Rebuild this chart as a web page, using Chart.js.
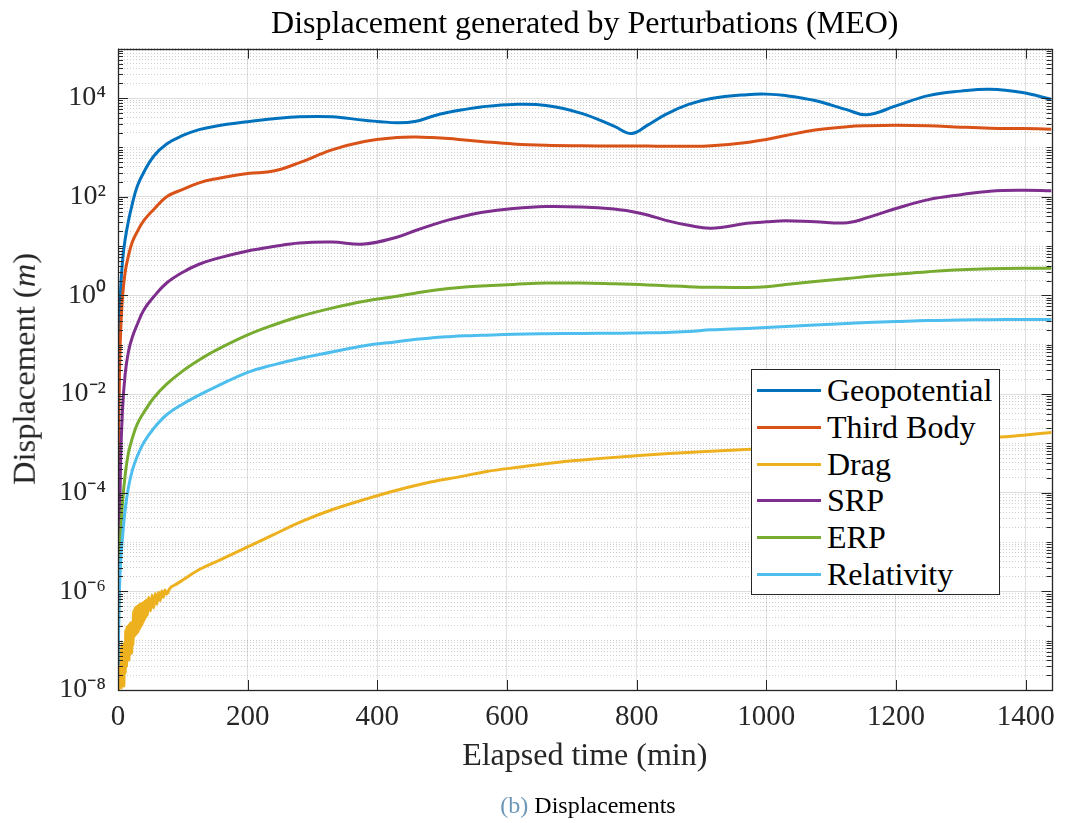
<!DOCTYPE html>
<html><head><meta charset="utf-8">
<script src="https://cdn.jsdelivr.net/npm/chart.js@4.4.1/dist/chart.umd.min.js"></script>
<style>
html,body{margin:0;padding:0;background:#fff;overflow:hidden}
#wrap{position:relative;width:1065px;height:823px}
canvas{position:absolute;left:0;top:0}
.serif{font-family:'Liberation Serif','Times New Roman',serif;color:#262626}
#ytitle{position:absolute;left:24px;top:369px;transform:translate(-50%,-50%) rotate(-90deg);white-space:nowrap;font-size:32.5px;line-height:1}
#legend{position:absolute;left:751px;top:369px;width:249px;height:226px;border:1px solid #262626;background:#fff;box-sizing:border-box;padding-top:2.4px}
.lrow{display:flex;align-items:center;height:36.67px;font-size:32px;line-height:36.67px;color:#000}
.lsw{width:64px;height:3px;margin-left:5px;margin-right:6px}
#caption{position:absolute;top:805px;left:588px;transform:translate(-50%,-50%);font-size:24px;white-space:nowrap;color:#000}
#caption .lab{color:#6c97b8}
</style></head>
<body>
<div id="wrap">
<canvas id="c" width="1065" height="823"></canvas>
<div id="ytitle" class="serif">Displacement (<i>m</i>)</div>
<div id="legend" class="serif"></div>
<div id="caption" class="serif"><span class="lab">(b)</span> Displacements</div>
</div>
<script>
// ---- data ----
const seriesNames = ['Geopotential','Third Body','Drag','SRP','ERP','Relativity'];
const seriesColors = ['#0072BD','#D95319','#EDB120','#7E2F8E','#77AC30','#4DBEEE'];

const timeMin = [0,1,2,4,7,11,16,22,30,40,55,75,100,125,150,200,240,280,330,380,430,460,485,510,535,560,610,660,715,765,792,817,845,880,915,970,1000,1030,1075,1125,1155,1200,1250,1300,1345,1395,1440];

const geopotential = [3.2e-8,3.2e-3,0.17,1.26,5.0,13.5,31.6,71,166,316,661,1170,1740,2290,2690,3310,3800,4170,4170,3550,3160,3390,4270,5130,5890,6610,7410,7080,4900,2690,1910,2820,4680,7410,9770,11700,12000,11200,8910,5750,4570,6920,11200,13800,15100,12900,9330];
const thirdBody = [3.2e-8,2.0e-3,1.58e-2,0.17,0.93,2.95,6.3,12,20,33,55,100,141,191,229,295,331,490,891,1320,1580,1620,1580,1510,1410,1320,1170,1100,1075,1068,1065,1062,1055,1050,1080,1260,1450,1740,2240,2630,2750,2820,2750,2570,2450,2400,2340];
const srp = [3.2e-8,1.0e-6,5.0e-6,4.0e-4,5.0e-3,2.5e-2,7.1e-2,0.141,0.263,0.513,0.933,1.78,2.95,4.27,5.5,7.94,9.77,11.5,12.0,11.0,15.1,20.9,26.9,33.9,40.7,47.9,57.5,63.1,61.7,56.2,50.1,42.7,33.1,26.3,22.9,28.8,30.9,32.4,30.9,29.5,37.2,57.5,87.1,110,129,135,132];
const erp = [3.2e-8,3.2e-7,1.6e-6,1.26e-5,6.3e-5,2.24e-4,6.3e-4,1.26e-3,2.5e-3,4.27e-3,8.3e-3,1.58e-2,2.95e-2,4.9e-2,7.6e-2,0.158,0.251,0.372,0.55,0.76,0.955,1.12,1.26,1.38,1.48,1.55,1.66,1.78,1.77,1.71,1.67,1.63,1.57,1.50,1.46,1.45,1.50,1.66,1.91,2.19,2.40,2.69,3.02,3.31,3.47,3.55,3.56];
const relativity = [3.2e-8,1.58e-7,7.9e-7,4.0e-6,1.26e-5,4.5e-5,1.26e-4,2.8e-4,5.6e-4,1.05e-3,2.0e-3,3.8e-3,6.3e-3,9.5e-3,1.38e-2,2.75e-2,3.9e-2,5.25e-2,7.1e-2,9.5e-2,0.115,0.129,0.138,0.145,0.151,0.155,0.163,0.167,0.169,0.171,0.172,0.174,0.177,0.186,0.200,0.214,0.224,0.234,0.251,0.269,0.282,0.295,0.309,0.316,0.322,0.324,0.325];

const dragTime = [0,1,2,3,4,5,6,7,8,9,10,11,12,13,14,15,16,17,18,19,20,21,22,23,24,25,26,27,28,29,30,31,32,33,34,35,36,37,38,39,40,41,42,43,44,45,47.5,50,52.5,55,57.5,60,62.5,65,67.5,70,72.5,75,80,90,100,126,160,195,240,280,330,382,430,484,530,569,620,689,740,792,850,914,1000,1100,1200,1300,1355,1400,1440];
const drag = [3.2e-8,1.0e-8,7.0e-8,1.3e-8,6.0e-8,1.1e-8,8.0e-8,1.6e-8,7.5e-8,1.2e-8,9.0e-8,2.2e-8,1.6e-7,3.0e-8,1.9e-7,4.5e-8,2.0e-7,4.0e-8,2.2e-7,6.0e-8,2.3e-7,5.5e-8,2.4e-7,8.0e-8,4.0e-7,1.2e-7,4.5e-7,1.3e-7,4.8e-7,1.4e-7,5.0e-7,1.5e-7,5.2e-7,1.7e-7,5.5e-7,1.9e-7,5.6e-7,2.1e-7,5.8e-7,2.4e-7,6.0e-7,2.7e-7,6.3e-7,3.0e-7,6.6e-7,3.3e-7,7.5e-7,4.0e-7,8.3e-7,4.6e-7,9.0e-7,5.5e-7,9.6e-7,6.5e-7,1.02e-6,7.6e-7,1.07e-6,8.8e-7,1.15e-6,1.4e-6,1.7e-6,2.8e-6,4.5e-6,7.4e-6,1.41e-5,2.5e-5,4.5e-5,7.4e-5,1.12e-4,1.66e-4,2.14e-4,2.7e-4,3.3e-4,4.3e-4,4.9e-4,5.5e-4,6.2e-4,6.9e-4,7.9e-4,9.3e-4,1.07e-3,1.23e-3,1.32e-3,1.48e-3,1.66e-3];

// ---- ticks ----
const xTickValues = [0,200,400,600,800,1000,1200,1400];
const yDecades = [-8,-7,-6,-5,-4,-3,-2,-1,0,1,2,3,4];
const yMultipliers = [1,2,3,4,5,6,7,8,9];
const yLabelExponents = [-8,-6,-4,-2,0,2,4];
const yTopValue = 1e5;

const seriesX = [timeMin,timeMin,dragTime,timeMin,timeMin,timeMin];
const seriesY = [geopotential,thirdBody,drag,srp,erp,relativity];

const supMap = {'-':'\u207B','0':'\u2070','1':'\u00B9','2':'\u00B2','3':'\u00B3','4':'\u2074','5':'\u2075','6':'\u2076','7':'\u2077','8':'\u2078','9':'\u2079'};
function labelExp(v){
  const e = Math.round(Math.log10(v));
  if (Math.abs(v/Math.pow(10,e) - 1) > 1e-6) return null;
  return yLabelExponents.includes(e) ? e : null;
}
function isMajorY(v){ return labelExp(v) !== null; }

const serif = "'Liberation Serif','Times New Roman',serif";
Chart.defaults.font.family = serif;
Chart.defaults.color = '#262626';

const datasets = seriesNames.map((name,i)=>({
  label: name,
  data: seriesX[i].map((t,j)=>({x:t, y:seriesY[i][j]})),
  borderColor: seriesColors[i],
  backgroundColor: seriesColors[i],
  borderWidth: 3,
  pointRadius: 0,
  fill: false,
  cubicInterpolationMode: name === 'Drag' ? 'monotone' : 'default',
  tension: 0.4,
  order: -i
}));

const axesFrame = {
  id: 'axesFrame',
  afterDatasetsDraw(chart){
    const {ctx, chartArea:{left,top,right,bottom}, scales:{x,y}} = chart;
    ctx.save();
    ctx.strokeStyle = '#262626';
    ctx.lineWidth = 1;
    ctx.setLineDash([]);
    ctx.beginPath();
    x.ticks.forEach(t=>{
      const px = Math.round(x.getPixelForValue(t.value)) + 0.5;
      ctx.moveTo(px,bottom); ctx.lineTo(px,bottom-10);
      ctx.moveTo(px,top); ctx.lineTo(px,top+10);
    });
    y.ticks.forEach(t=>{
      const py = Math.round(y.getPixelForValue(t.value)) + 0.5;
      const len = isMajorY(t.value) ? 10 : 5;
      ctx.moveTo(left,py); ctx.lineTo(left+len,py);
      ctx.moveTo(right,py); ctx.lineTo(right-len,py);
    });
    ctx.stroke();
    ctx.lineWidth = 1.3;
    ctx.strokeRect(Math.round(left)+0.5, Math.round(top)+0.5, Math.round(right)-Math.round(left), Math.round(bottom)-Math.round(top));
    ctx.restore();
  }
};

new Chart(document.getElementById('c'), {
  type: 'line',
  data: { datasets },
  options: {
    responsive: false,
    animation: false,
    devicePixelRatio: 1,
    layout: { padding: { left: 0, right: 10, top: 0, bottom: 0 } },
    plugins: {
      legend: { display: false },
      tooltip: { enabled: false },
      title: {
        display: true,
        fullSize: false,
        text: 'Displacement generated by Perturbations (MEO)',
        color: '#000',
        font: { family: serif, size: 32, weight: 'normal' },
        padding: { top: 5, bottom: 5.3 }
      }
    },
    scales: {
      x: {
        type: 'linear',
        min: 0, max: 1440,
        afterBuildTicks: s => { s.ticks = xTickValues.map(v=>({value:v})); },
        afterFit: s => { s.height = 133; },
        ticks: { font: { size: 29 }, color: '#262626', padding: 10, maxRotation: 0, autoSkip: false, callback: v => String(v) },
        grid: { color: '#e0e0e0', lineWidth: 1, drawTicks: false },
        border: { display: false },
        title: { display: true, text: 'Elapsed time (min)', color: '#262626', font: { size: 32 }, padding: { top: 0, bottom: 47 } }
      },
      y: {
        type: 'logarithmic',
        min: 1e-8, max: yTopValue,
        afterBuildTicks: s => {
          const t = [];
          yDecades.forEach(d => yMultipliers.forEach(m => t.push({value: m*Math.pow(10,d)})));
          t.push({value: yTopValue});
          s.ticks = t;
        },
        afterFit: s => { s.width = 118; },
        ticks: {
          font: { size: 28 }, color: '#262626', padding: 12, autoSkip: false,
          callback: v => { const e = labelExp(v); return e === null ? '' : '10' + String(e).split('').map(c=>supMap[c]).join(''); }
        },
        grid: {
          drawTicks: false, lineWidth: 1,
          color: c => (c.tick && isMajorY(c.tick.value)) ? '#dedede' : 'rgba(60,60,60,0.26)'
        },
        border: {
          display: false,
          dash: c => (c.tick && !isMajorY(c.tick.value)) ? [1,2] : []
        }
      }
    }
  },
  plugins: [axesFrame]
});

// ---- legend (HTML) ----
const lg = document.getElementById('legend');
seriesNames.forEach((n,i)=>{
  const row = document.createElement('div'); row.className='lrow';
  const sw = document.createElement('div'); sw.className='lsw'; sw.style.background = seriesColors[i];
  const tx = document.createElement('span'); tx.textContent = n;
  row.appendChild(sw); row.appendChild(tx); lg.appendChild(row);
});
</script>
</body></html>
